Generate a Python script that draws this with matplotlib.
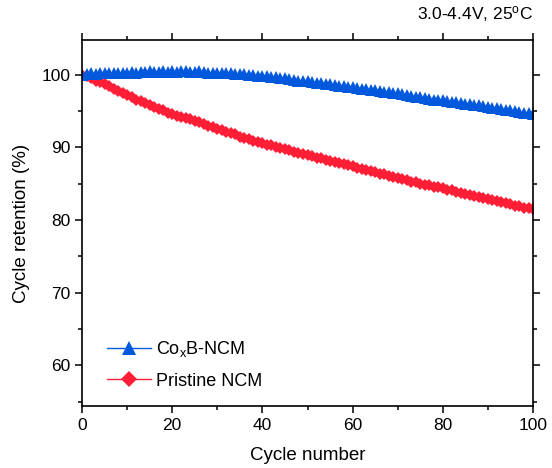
import numpy as np
import matplotlib.pyplot as plt
from matplotlib.ticker import MultipleLocator

plt.rcParams['font.family'] = ['Liberation Sans', 'DejaVu Sans']
plt.rcParams['mathtext.fontset'] = 'custom'
plt.rcParams['mathtext.rm'] = 'Liberation Sans'
plt.rcParams['mathtext.default'] = 'regular'

# cycle retention (%), one value per cycle
cycles = list(range(0, 101))

coxb_ncm = [
    100.0, 100.1, 100.2, 100.1, 100.2, 100.2, 100.3, 100.2, 100.3, 100.3,
    100.3, 100.4, 100.3, 100.4, 100.4, 100.5, 100.4, 100.4, 100.5, 100.4,
    100.5, 100.4, 100.5, 100.5, 100.4, 100.4, 100.5, 100.4, 100.3, 100.3,
    100.3, 100.2, 100.3, 100.2, 100.1, 100.1, 100.1, 100.0, 100.0, 99.9,
    99.9, 99.8, 99.7, 99.7, 99.5, 99.5, 99.4, 99.3, 99.2, 99.2,
    99.1, 99.0, 98.9, 98.9, 98.8, 98.7, 98.6, 98.5, 98.4, 98.3,
    98.3, 98.2, 98.1, 98.0, 97.9, 97.9, 97.8, 97.7, 97.6, 97.5,
    97.5, 97.3, 97.2, 97.1, 97.0, 96.9, 96.8, 96.7, 96.6, 96.5,
    96.5, 96.4, 96.3, 96.2, 96.1, 96.0, 96.0, 95.9, 95.8, 95.7,
    95.6, 95.5, 95.4, 95.3, 95.2, 95.1, 95.0, 94.9, 94.8, 94.7,
    94.55,
]

pristine_ncm = [
    100.0, 99.8, 99.5, 99.2, 99.0, 98.7, 98.4, 98.1, 97.8, 97.5,
    97.2, 96.9, 96.6, 96.4, 96.1, 95.8, 95.6, 95.3, 95.1, 94.8,
    94.6, 94.4, 94.2, 94.0, 93.9, 93.7, 93.5, 93.3, 93.0, 92.8,
    92.6, 92.4, 92.2, 92.0, 91.8, 91.5, 91.3, 91.1, 90.9, 90.8,
    90.6, 90.4, 90.3, 90.1, 89.9, 89.8, 89.6, 89.4, 89.3, 89.1,
    88.9, 88.8, 88.6, 88.5, 88.3, 88.2, 88.0, 87.9, 87.7, 87.6,
    87.4, 87.2, 87.1, 86.9, 86.8, 86.6, 86.4, 86.3, 86.1, 86.0,
    85.8, 85.6, 85.5, 85.3, 85.2, 85.0, 84.9, 84.8, 84.6, 84.5,
    84.4, 84.2, 84.1, 83.9, 83.8, 83.6, 83.5, 83.3, 83.2, 83.0,
    82.9, 82.7, 82.6, 82.5, 82.3, 82.2, 82.0, 81.9, 81.7, 81.6,
    81.5,
]

blue = '#0058DC'
red = '#FF1E36'

fig = plt.figure(figsize=(5.52, 4.68), dpi=100)
ax = fig.add_axes([0.1486, 0.1325, 0.8170, 0.7820])

# red first so the blue band sits on top where they overlap
l_red, = ax.plot(cycles, pristine_ncm, '-D', color=red, markersize=6.5,
                 markeredgewidth=0, linewidth=1)
l_blue, = ax.plot(cycles, coxb_ncm, '-^', color=blue, markersize=8,
                  markeredgewidth=0, linewidth=1)

ax.set_xlim(0, 100)
ax.set_ylim(54.4, 104.8)
ax.xaxis.set_major_locator(MultipleLocator(20))
ax.xaxis.set_minor_locator(MultipleLocator(10))
ax.yaxis.set_major_locator(MultipleLocator(10))
ax.yaxis.set_minor_locator(MultipleLocator(5))
ax.set_yticks([60, 70, 80, 90, 100])

ax.tick_params(which='both', direction='out', top=True, right=True,
               width=1.1, labelsize=12.5, colors='black')
ax.tick_params(which='major', length=5)
ax.tick_params(which='minor', length=3)
for s in ax.spines.values():
    s.set_linewidth(1.2)

ax.set_xlabel('Cycle number', fontsize=13.5, labelpad=10)
ax.set_ylabel('Cycle retention (%)', fontsize=13.5, labelpad=8)

fig.text(0.966, 0.948, '3.0-4.4V, 25$^{o}$C', ha='right', va='bottom',
         fontsize=12.5)

ax.legend([l_blue, l_red], ['Co$_x$B-NCM', 'Pristine NCM'],
          loc='lower left', bbox_to_anchor=(0.02, 0.0), frameon=False,
          fontsize=13, handlelength=2.4, handletextpad=0.3, labelspacing=0.75,
          markerscale=1.3)

fig.savefig('out.png', dpi=100)
